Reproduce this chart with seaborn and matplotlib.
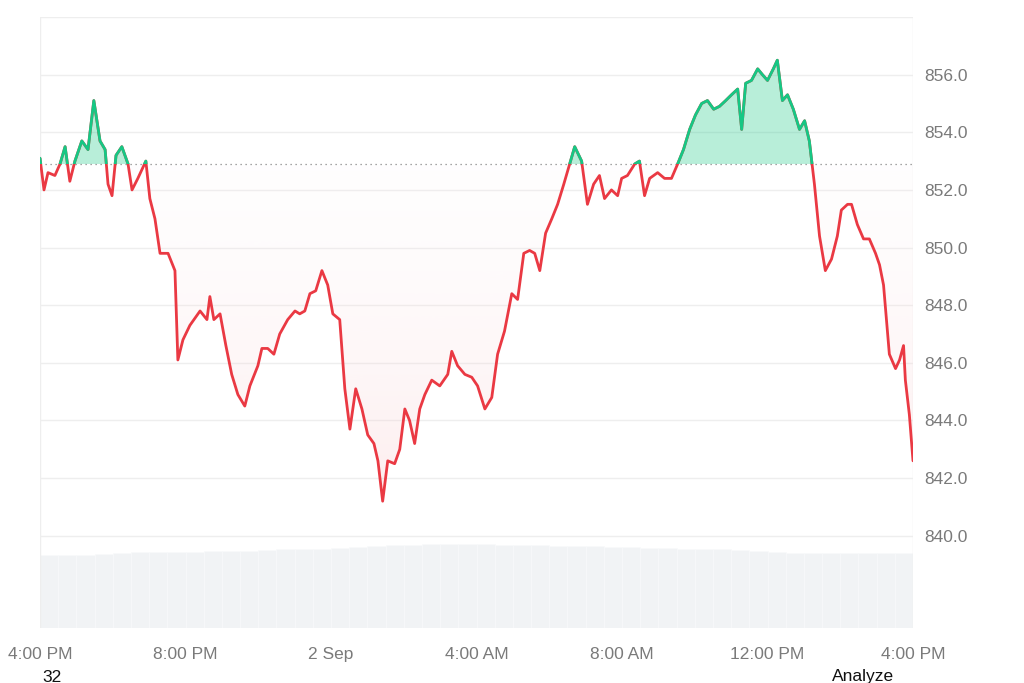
import numpy as np
import pandas as pd
import matplotlib
matplotlib.use("Agg")
import matplotlib.pyplot as plt
from matplotlib.patches import Rectangle
from matplotlib.colors import LinearSegmentedColormap
import seaborn as sns

# hours since 4:00 PM (1 Sep) and price
hours = [0.00, 0.11, 0.22, 0.41, 0.55, 0.69, 0.82, 0.96, 1.15, 1.32, 1.48, 1.65, 1.79, 1.87, 1.98,
         2.09, 2.25, 2.42, 2.53, 2.69, 2.91, 3.02, 3.16, 3.30, 3.52, 3.71, 3.79, 3.93, 4.12, 4.40,
         4.59, 4.67, 4.78, 4.95, 5.11, 5.27, 5.44, 5.63, 5.77, 5.99, 6.10, 6.26, 6.43, 6.59, 6.81,
         7.01, 7.14, 7.28, 7.42, 7.58, 7.75, 7.91, 8.05, 8.24, 8.38, 8.52, 8.68, 8.85, 9.01, 9.18,
         9.29, 9.42, 9.56, 9.75, 9.89, 10.03, 10.16, 10.30, 10.44, 10.58, 10.77, 10.99, 11.21, 11.32,
         11.48, 11.68, 11.87, 12.03, 12.23, 12.42, 12.58, 12.77, 12.97, 13.13, 13.30, 13.46, 13.60,
         13.74, 13.90, 14.07, 14.23, 14.40, 14.56, 14.70, 14.89, 15.05, 15.22, 15.38, 15.52, 15.71,
         15.88, 15.99, 16.15, 16.35, 16.48, 16.62, 16.76, 16.98, 17.17, 17.36, 17.53, 17.69, 17.86,
         18.02, 18.19, 18.35, 18.52, 18.68, 18.85, 19.01, 19.18, 19.29, 19.40, 19.56, 19.73, 19.86,
         20.00, 20.16, 20.27, 20.41, 20.55, 20.71, 20.88, 21.02, 21.15, 21.29, 21.43, 21.59, 21.76,
         21.92, 22.03, 22.20, 22.31, 22.47, 22.64, 22.80, 22.97, 23.08, 23.19, 23.35, 23.52, 23.63,
         23.74, 23.79, 23.90, 24.00]
price = [853.1, 852.0, 852.6, 852.5, 852.9, 853.5, 852.3, 853.0, 853.7, 853.4, 855.1, 853.7, 853.4, 852.2, 851.8,
         853.2, 853.5, 852.9, 852.0, 852.4, 853.0, 851.7, 851.0, 849.8, 849.8, 849.2, 846.1, 846.8, 847.3, 847.8,
         847.5, 848.3, 847.5, 847.7, 846.6, 845.6, 844.9, 844.5, 845.2, 845.9, 846.5, 846.5, 846.3, 847.0, 847.5,
         847.8, 847.7, 847.8, 848.4, 848.5, 849.2, 848.7, 847.7, 847.5, 845.1, 843.7, 845.1, 844.4, 843.5, 843.2,
         842.6, 841.2, 842.6, 842.5, 843.0, 844.4, 844.0, 843.2, 844.4, 844.9, 845.4, 845.2, 845.6, 846.4,
         845.9, 845.6, 845.5, 845.2, 844.4, 844.8, 846.3, 847.1, 848.4, 848.2, 849.8, 849.9, 849.8,
         849.2, 850.5, 851.0, 851.5, 852.2, 852.9, 853.5, 853.0, 851.5, 852.2, 852.5, 851.7, 852.0,
         851.8, 852.4, 852.5, 852.9, 853.0, 851.8, 852.4, 852.6, 852.4, 852.4, 852.9, 853.4, 854.1,
         854.6, 855.0, 855.1, 854.8, 854.9, 855.1, 855.3, 855.5, 854.1, 855.7, 855.8, 856.2, 856.0,
         855.8, 856.2, 856.5, 855.1, 855.3, 854.8, 854.1, 854.4, 853.7, 852.2, 850.4, 849.2, 849.6,
         850.4, 851.3, 851.5, 851.5, 850.8, 850.3, 850.3, 849.8, 849.4, 848.7, 846.3, 845.8, 846.1,
         846.6, 845.4, 844.2, 842.6]
baseline = 852.9

# half-hourly volume (relative)
vol_hours = [i * 0.5 for i in range(48)]
volume = [74, 74, 74, 75, 76, 77, 77, 77, 77, 78, 78, 78, 79, 80, 80, 80, 81, 82, 83, 84,
          84, 85, 85, 85, 85, 84, 84, 84, 83, 83, 83, 82, 82, 81, 81, 80, 80, 80, 79, 78,
          77, 76, 76, 76, 76, 76, 76, 76]

tick_pos = [0, 4, 8, 12, 16, 20, 24]
tick_labels = ["4:00 PM", "8:00 PM", "2 Sep", "4:00 AM", "8:00 AM", "12:00 PM", "4:00 PM"]
ytick_vals = [840, 842, 844, 846, 848, 850, 852, 854, 856]

df = pd.DataFrame({"hours": hours, "price": price})
t = np.array(hours)
p = np.array(price)

sns.set_style("white")
plt.rcParams["font.family"] = ["Liberation Sans", "DejaVu Sans"]
fig = plt.figure(figsize=(10.24, 6.83), dpi=100)
ax = fig.add_axes([40 / 1024, 1 - 628 / 683, 873 / 1024, 611 / 683])

# volume bars on twin axis
axv = ax.twinx()
axv.bar(vol_hours, volume, width=0.5, color="#f1f3f5", align="edge",
        edgecolor="#f9fafb", linewidth=0.4)
axv.set_ylim(0, 85 / (84 / 611))
axv.set_yticks([])
for s in axv.spines.values():
    s.set_visible(False)
ax.set_zorder(axv.get_zorder() + 1)
ax.patch.set_visible(False)

# gradient fill below baseline (stronger further down)
red_poly = ax.fill_between(t, p, baseline, where=p <= baseline, interpolate=True,
                           color="none", linewidth=0)
grad = np.linspace(0.07, 0.3, 256).reshape(-1, 1)
rcm = LinearSegmentedColormap.from_list("r", [(1, 1, 1, 0), (0.92, 0.22, 0.27, 1)])
for path in red_poly.get_paths():
    im = ax.imshow(grad, cmap=rcm, vmin=0, vmax=1, aspect="auto",
                   extent=[0, 24, 841.0, baseline], origin="upper", zorder=1)
    im.set_clip_path(path, transform=ax.transData)
ax.fill_between(t, p, baseline, where=p >= baseline, interpolate=True,
                color="#16c784", alpha=0.3, linewidth=0, zorder=1)
ax.set_xlim(0, 24)
ax.set_ylim(836.8, 858.0)

# line: red everywhere, green above baseline
sns.lineplot(data=df, x="hours", y="price", ax=ax, color="#ea3943", linewidth=2, zorder=3)
green, = ax.plot(t, p, color="#16c784", linewidth=2, zorder=4)
clip = Rectangle((0, baseline), 24, 10, transform=ax.transData)
green.set_clip_path(clip)

ax.axhline(baseline, color="#888888", linestyle=(0, (1, 3)), linewidth=0.9, zorder=2)

for v in ytick_vals:
    ax.axhline(v, color="#eeeeee", linewidth=1, zorder=0)
ax.axhline(858.0, color="#eeeeee", linewidth=1, zorder=0)
ax.axvline(0, color="#eeeeee", linewidth=1, zorder=0)
ax.axvline(24, color="#eeeeee", linewidth=1, zorder=0)

ax.yaxis.tick_right()
ax.set_yticks(ytick_vals)
ax.set_yticklabels([f"{v:.1f}" for v in ytick_vals])
ax.set_xticks(tick_pos)
ax.set_xticklabels(tick_labels)
ax.tick_params(axis="both", length=0, labelsize=12.5, colors="#7a7a7a")
ax.tick_params(axis="y", pad=8)
ax.tick_params(axis="x", pad=14)
ax.set_xlabel("")
ax.set_ylabel("")
for s in ax.spines.values():
    s.set_visible(False)

fig.text(52 / 1024, 1 - 677 / 683, "32", fontsize=12.5, color="#111111", ha="center", va="center")
fig.text(863 / 1024, 1 - 677 / 683, "Analyze", fontsize=12.5, color="#111111", ha="center", va="center")

fig.savefig("out.png", dpi=100)
